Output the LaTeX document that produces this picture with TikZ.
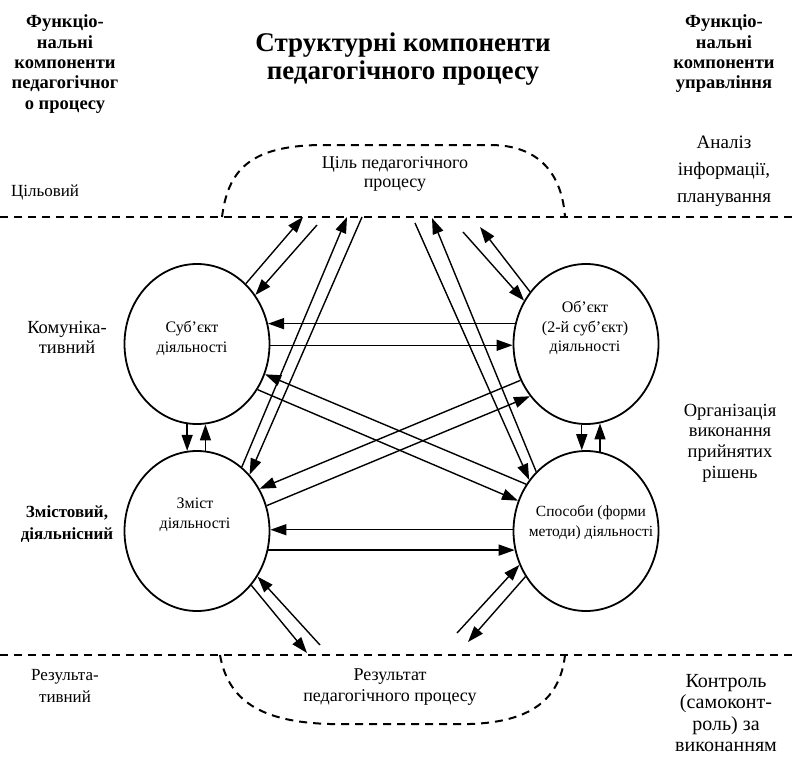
\documentclass[tikz,border=0pt]{standalone}
\usepackage{fontspec}
\setmainfont{Liberation Serif}
\usetikzlibrary{arrows.meta,shapes.geometric}

\begin{document}
\begin{tikzpicture}[x=1pt,y=-1pt,
  circ/.style={draw, ellipse, line width=1.8pt, minimum width=145pt, minimum height=160pt, inner sep=0pt},
  arr/.style={line width=1.4pt, -{Triangle[length=16pt,width=11pt]}},
  bound/.style={line width=2pt, dash pattern=on 8pt off 6pt},
  txt/.style={inner sep=0pt, align=center},
]
\useasboundingbox (0,0) rectangle (797,757);

% headings
\node[txt, font=\fontsize{18.5}{20.3}\selectfont\bfseries] (lhead) at (65,64) {Функціо-\\нальні\\компоненти\\педагогічног\\о процесу};
\node[txt, font=\fontsize{27}{27.5}\selectfont\bfseries] (title) at (403,59) {Структурні компоненти\\педагогічного процесу};
\node[txt, font=\fontsize{18.5}{20.3}\selectfont\bfseries] (rhead) at (724,54) {Функціо-\\нальні\\компоненти\\управління};

% side labels
\node[txt, font=\fontsize{19}{27}\selectfont] (analiz) at (724,171) {Аналіз\\інформації,\\планування};
\node[txt, font=\fontsize{17}{20}\selectfont] (tsil) at (45,192) {Цільовий};
\node[txt, font=\fontsize{18.5}{20}\selectfont] (komun) at (67,337) {Комуніка-\\тивний};
\node[txt, font=\fontsize{18.5}{20.7}\selectfont] (org) at (730,443) {Організація\\виконання\\прийнятих\\рішень};
\node[txt, font=\fontsize{17}{22}\selectfont\bfseries] (zmistov) at (67,524) {Змістовий,\\діяльнісний};
\node[txt, font=\fontsize{17}{22}\selectfont] (rezult) at (65,686) {Результа-\\тивний};
\node[txt, font=\fontsize{20}{21.5}\selectfont] (kontr) at (726,713) {Контроль\\(самоконт-\\роль) за\\виконанням};

% boundaries of the goal and result zones
\draw[bound] (0,217) -- (797,217);
\draw[bound] (0,655) -- (797,655);
\draw[bound] (222,217) .. controls (228,170) and (250,146) .. (320,145) -- (490,145) .. controls (540,145) and (562,175) .. (565,217);
\draw[bound] (220,655) .. controls (228,700) and (260,722) .. (330,724) -- (470,724) .. controls (530,722) and (560,700) .. (565,655);
\node[txt, font=\fontsize{18}{18.5}\selectfont] (goalt) at (395,174) {Ціль педагогічного\\процесу};
\node[txt, font=\fontsize{18}{21}\selectfont] (rezt) at (390,687) {Результат\\педагогічного процесу};

% components
\node[circ] (subj) at (197,344) {};
\node[circ] (obj) at (586,344) {};
\node[circ] (zmist) at (197,531) {};
\node[circ] (sposoby) at (586,531) {};
\node[txt, font=\fontsize{16}{20}\selectfont] (subjt) at (192,338) {Суб’єкт\\діяльності};
\node[txt, font=\fontsize{16}{19.5}\selectfont] (objt) at (585,328) {Об’єкт\\(2-й суб’єкт)\\діяльності};
\node[txt, font=\fontsize{16}{20}\selectfont] (zmistt) at (195,515) {Зміст\\діяльності};
\node[txt, font=\fontsize{15.5}{20}\selectfont] (sposobt) at (591,523) {Способи (форми\\методи) діяльності};

% free ends on the goal and result lines
\coordinate (g1) at (303,217);
\coordinate (g2) at (317,225);
\coordinate (g3) at (347,217);
\coordinate (g4) at (362,217);
\coordinate (g5) at (415,223);
\coordinate (g6) at (432,218);
\coordinate (g7) at (463,232);
\coordinate (g8) at (480,227);
\coordinate (r1) at (307,653);
\coordinate (r2) at (320,645);
\coordinate (r3) at (457,633);
\coordinate (r4) at (468,642);

% links with the goal
\draw[arr] (subj.51) -- (g1);
\draw[arr] (g2) -- (subj.40);
\draw[arr] (zmist.55) -- (g3);
\draw[arr] (g4) -- (zmist.47);
\draw[arr] (g5) -- (sposoby.138);
\draw[arr] (sposoby.130) -- (g6);
\draw[arr] (g7) -- (obj.145);
\draw[arr] (obj.137) -- (g8);

% horizontal links
\draw[arr] (obj.164) -- (subj.16);
\draw[arr] (subj.-1) -- (obj.181);
\draw[arr] (sposoby.179) -- (zmist.1);
\draw[arr] (zmist.-15) -- (sposoby.195);

% vertical links
\draw[arr] (subj.263) -- (zmist.97);
\draw[arr] (zmist.84) -- (subj.276);
\draw[arr] (obj.267) -- (sposoby.93);
\draw[arr] (sposoby.80) -- (obj.280);

% crossing links
\draw[arr] (sposoby.142) -- (subj.-24);
\draw[arr] (subj.-37) -- (sposoby.156);
\draw[arr] (obj.209) -- (zmist.34);
\draw[arr] (zmist.20) -- (obj.223);

% links with the result
\draw[arr] (zmist.-45) -- (r1);
\draw[arr] (r2) -- (zmist.-37);
\draw[arr] (r3) -- (sposoby.207);
\draw[arr] (sposoby.217) -- (r4);
\end{tikzpicture}
\end{document}
